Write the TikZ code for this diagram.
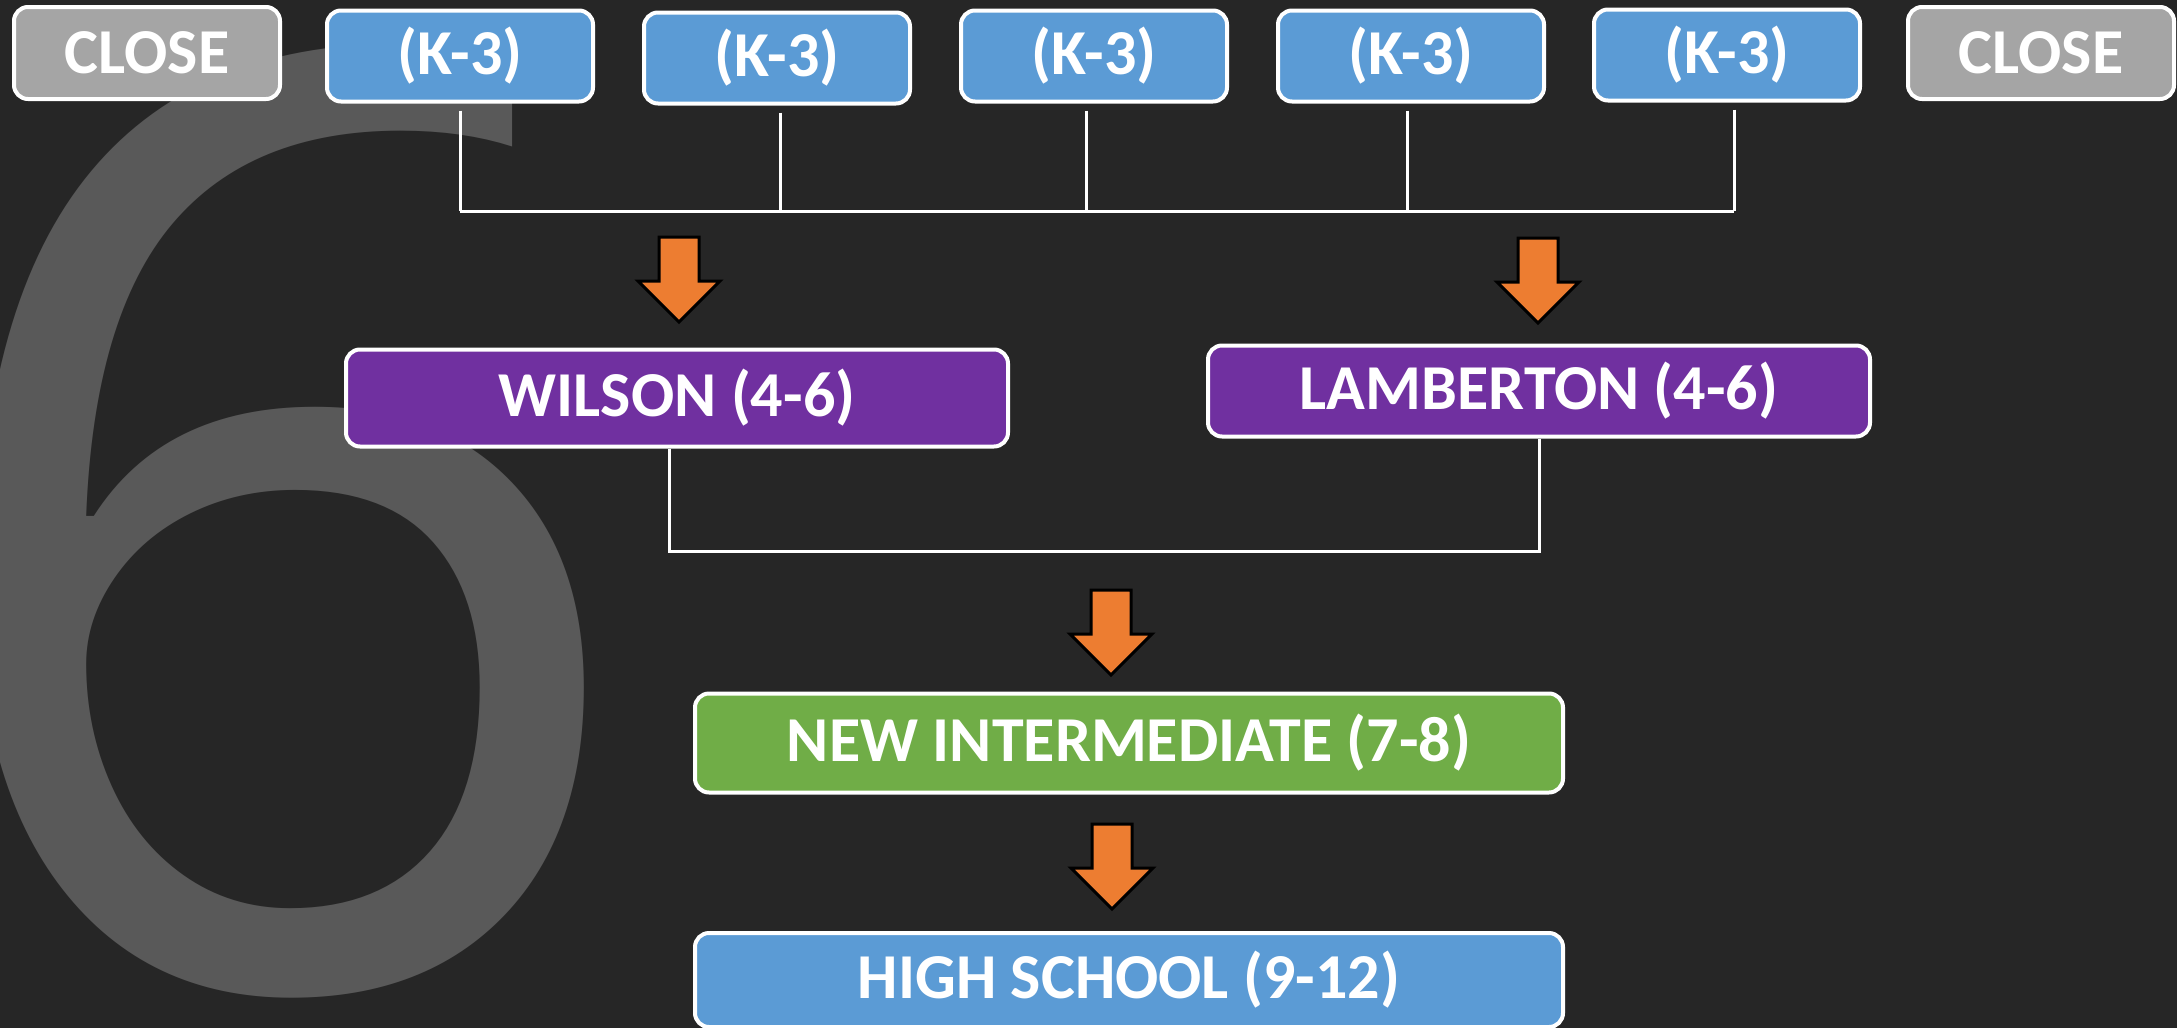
\documentclass[tikz,border=0pt]{standalone}
\usepackage{fontspec}
\setmainfont{Carlito}
\newfontfamily\bignumfont{Open Sans}
\usetikzlibrary{positioning}

\definecolor{bgdark}{HTML}{262626}
\definecolor{sixgray}{HTML}{595959}
\definecolor{kblue}{HTML}{5B9BD5}
\definecolor{mpurple}{HTML}{7030A0}
\definecolor{igreen}{HTML}{70AD47}
\definecolor{closegray}{HTML}{A5A5A5}
\definecolor{arroworange}{HTML}{ED7D31}

\tikzset{
  school/.style={draw=white, line width=4pt, rounded corners=14pt, text=white,
    font=\fontsize{64}{72}\selectfont\bfseries, inner sep=0pt,
    minimum width=266pt, minimum height=91pt},
  feeder/.style={draw=white, line width=3pt},
  downarrow/.style={fill=arroworange, draw=black, line width=3pt, line join=miter}
}

\begin{document}
\begin{tikzpicture}[x=1pt,y=-1pt]
            \clip (0,0) rectangle (2177,1028);
            \fill[bgdark] (0,0) rectangle (2177,1028);

            % big grade number behind everything
            \node[anchor=base, inner sep=0pt, text=sixgray, font=\fontsize{1300}{1300}\selectfont\bignumfont] (six) at (276,985) {6};

            % top row: closing and K-3 schools
            \node[school, fill=closegray, minimum height=92pt] (closeL) at (147,53) {CLOSE};
            \foreach \i/\kx/\ky in {1/460/56, 2/777/58, 3/1094/56, 4/1411/56, 5/1727/55}
                \node[school, fill=kblue] (k\i) at (\kx,\ky) {(K-3)};
            \node[school, fill=closegray, minimum height=92pt] (closeR) at (2041,53) {CLOSE};

            % 4-6, 7-8 and high school
            \node[school, fill=mpurple, minimum width=662pt, minimum height=97pt] (wilson) at (677,398) {WILSON (4-6)};
            \node[school, fill=mpurple, minimum width=662pt] (lamberton) at (1539,391) {LAMBERTON (4-6)};
            \node[school, fill=igreen, minimum width=868pt, minimum height=99pt] (newint) at (1129,743) {NEW INTERMEDIATE (7-8)};
            \node[school, fill=kblue, minimum width=868pt, minimum height=94pt] (high) at (1129,980) {HIGH SCHOOL (9-12)};

            % feeder lines
            \coordinate (bus) at (0,211);
            \foreach \i/\dx in {1/0, 2/3, 3/-8, 4/-4, 5/7}
                \draw[feeder] ([xshift=\dx pt, yshift=-7pt]k\i.south) -- ([xshift=\dx pt]k\i.south |- bus);
            \draw[feeder] (k1.south |- bus) -- ([xshift=7pt]k5.south |- bus);
            \coordinate (join) at (0,551);
            \draw[feeder] ([xshift=-8pt]wilson.south) |- (lamberton.south |- join) -- (lamberton.south);

            % orange arrows
            \foreach \ax/\ay in {679/237, 1538/238, 1111/590, 1112/824}
                \draw[downarrow] (\ax-20,\ay) -- (\ax+20,\ay) -- (\ax+20,\ay+44) -- (\ax+41,\ay+44)
                    -- (\ax,\ay+85) -- (\ax-41,\ay+44) -- (\ax-20,\ay+44) -- cycle;
\end{tikzpicture}
\end{document}
